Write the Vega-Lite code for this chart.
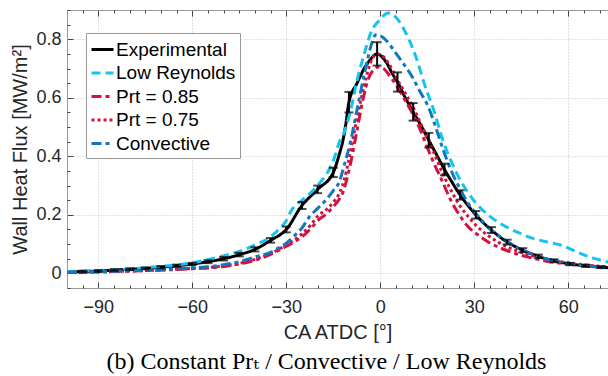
{
  "$schema": "https://vega.github.io/schema/vega-lite/v6.json",
  "autosize": {"type": "none"},
  "padding": {"left": 67, "top": 10, "right": 0, "bottom": 88},
  "width": 541,
  "height": 278,
  "background": "white",
  "title": {"text": "(b) Constant Prₜ / Convective / Low Reynolds", "orient": "bottom", "font": "Liberation Serif, DejaVu Serif", "fontSize": 24, "fontWeight": "normal", "color": "black", "offset": 8, "dx": -11},
  "config": {
    "view": {"stroke": null},
    "legend": {"orient": "none", "legendX": 19, "legendY": 23, "strokeColor": "#9a9a9a", "fillColor": "white", "padding": 4, "labelFont": "Liberation Sans", "labelFontSize": 19, "labelColor": "black", "symbolType": "stroke", "symbolSize": 484, "symbolStrokeWidth": 3, "rowPadding": 0.5, "labelOffset": 1, "labelLimit": 300}
  },
  "datasets": {
    "curves": [
      {"ca": -100, "v": 0.004, "s": "Experimental"}, {"ca": -95, "v": 0.006, "s": "Experimental"}, {"ca": -90, "v": 0.008, "s": "Experimental"}, {"ca": -85, "v": 0.011, "s": "Experimental"}, {"ca": -80, "v": 0.014, "s": "Experimental"}, {"ca": -75, "v": 0.017, "s": "Experimental"}, {"ca": -70, "v": 0.021, "s": "Experimental"}, {"ca": -65, "v": 0.026, "s": "Experimental"}, {"ca": -60, "v": 0.032, "s": "Experimental"}, {"ca": -55, "v": 0.04, "s": "Experimental"}, {"ca": -50, "v": 0.05, "s": "Experimental"}, {"ca": -45, "v": 0.064, "s": "Experimental"}, {"ca": -40, "v": 0.082, "s": "Experimental"}, {"ca": -35, "v": 0.113, "s": "Experimental"}, {"ca": -30, "v": 0.15, "s": "Experimental"}, {"ca": -25, "v": 0.232, "s": "Experimental"}, {"ca": -20, "v": 0.287, "s": "Experimental"}, {"ca": -15, "v": 0.345, "s": "Experimental"}, {"ca": -13, "v": 0.41, "s": "Experimental"}, {"ca": -12, "v": 0.45, "s": "Experimental"}, {"ca": -11, "v": 0.51, "s": "Experimental"}, {"ca": -10, "v": 0.585, "s": "Experimental"}, {"ca": -7.4, "v": 0.65, "s": "Experimental"}, {"ca": -5.4, "v": 0.695, "s": "Experimental"}, {"ca": -3.2, "v": 0.73, "s": "Experimental"}, {"ca": -1, "v": 0.75, "s": "Experimental"}, {"ca": 0, "v": 0.745, "s": "Experimental"}, {"ca": 2, "v": 0.72, "s": "Experimental"}, {"ca": 4, "v": 0.68, "s": "Experimental"}, {"ca": 5.5, "v": 0.654, "s": "Experimental"}, {"ca": 8, "v": 0.6, "s": "Experimental"}, {"ca": 10.5, "v": 0.552, "s": "Experimental"}, {"ca": 13, "v": 0.505, "s": "Experimental"}, {"ca": 15.5, "v": 0.455, "s": "Experimental"}, {"ca": 18, "v": 0.405, "s": "Experimental"}, {"ca": 20.5, "v": 0.355, "s": "Experimental"}, {"ca": 23, "v": 0.31, "s": "Experimental"}, {"ca": 25.5, "v": 0.268, "s": "Experimental"}, {"ca": 28, "v": 0.232, "s": "Experimental"}, {"ca": 30.5, "v": 0.2, "s": "Experimental"}, {"ca": 33, "v": 0.172, "s": "Experimental"}, {"ca": 35.5, "v": 0.148, "s": "Experimental"}, {"ca": 38, "v": 0.126, "s": "Experimental"}, {"ca": 40.5, "v": 0.107, "s": "Experimental"}, {"ca": 43, "v": 0.092, "s": "Experimental"}, {"ca": 45.5, "v": 0.079, "s": "Experimental"}, {"ca": 48, "v": 0.068, "s": "Experimental"}, {"ca": 50.5, "v": 0.058, "s": "Experimental"}, {"ca": 55.5, "v": 0.043, "s": "Experimental"}, {"ca": 60.5, "v": 0.032, "s": "Experimental"}, {"ca": 65.5, "v": 0.026, "s": "Experimental"}, {"ca": 70.5, "v": 0.021, "s": "Experimental"}, {"ca": 73, "v": 0.019, "s": "Experimental"},

      {"ca": -100, "v": 0.006, "s": "Low Reynolds"}, {"ca": -90, "v": 0.01, "s": "Low Reynolds"}, {"ca": -80, "v": 0.015, "s": "Low Reynolds"}, {"ca": -70, "v": 0.024, "s": "Low Reynolds"}, {"ca": -60, "v": 0.036, "s": "Low Reynolds"}, {"ca": -52, "v": 0.055, "s": "Low Reynolds"}, {"ca": -45, "v": 0.075, "s": "Low Reynolds"}, {"ca": -40, "v": 0.097, "s": "Low Reynolds"}, {"ca": -35, "v": 0.125, "s": "Low Reynolds"}, {"ca": -32, "v": 0.155, "s": "Low Reynolds"}, {"ca": -30, "v": 0.18, "s": "Low Reynolds"}, {"ca": -28.5, "v": 0.213, "s": "Low Reynolds"}, {"ca": -25, "v": 0.25, "s": "Low Reynolds"}, {"ca": -20, "v": 0.3, "s": "Low Reynolds"}, {"ca": -15, "v": 0.385, "s": "Low Reynolds"}, {"ca": -12.8, "v": 0.455, "s": "Low Reynolds"}, {"ca": -11.8, "v": 0.475, "s": "Low Reynolds"}, {"ca": -9.6, "v": 0.55, "s": "Low Reynolds"}, {"ca": -7.4, "v": 0.66, "s": "Low Reynolds"}, {"ca": -5.1, "v": 0.75, "s": "Low Reynolds"}, {"ca": -3.1, "v": 0.82, "s": "Low Reynolds"}, {"ca": 0, "v": 0.868, "s": "Low Reynolds"}, {"ca": 2.5, "v": 0.89, "s": "Low Reynolds"}, {"ca": 5, "v": 0.875, "s": "Low Reynolds"}, {"ca": 8, "v": 0.825, "s": "Low Reynolds"}, {"ca": 10.5, "v": 0.765, "s": "Low Reynolds"}, {"ca": 12, "v": 0.72, "s": "Low Reynolds"}, {"ca": 14, "v": 0.65, "s": "Low Reynolds"}, {"ca": 17, "v": 0.56, "s": "Low Reynolds"}, {"ca": 20, "v": 0.455, "s": "Low Reynolds"}, {"ca": 24.5, "v": 0.34, "s": "Low Reynolds"}, {"ca": 29.8, "v": 0.25, "s": "Low Reynolds"}, {"ca": 35, "v": 0.195, "s": "Low Reynolds"}, {"ca": 40, "v": 0.16, "s": "Low Reynolds"}, {"ca": 45, "v": 0.135, "s": "Low Reynolds"}, {"ca": 48, "v": 0.122, "s": "Low Reynolds"}, {"ca": 53, "v": 0.108, "s": "Low Reynolds"}, {"ca": 57.5, "v": 0.097, "s": "Low Reynolds"}, {"ca": 61, "v": 0.082, "s": "Low Reynolds"}, {"ca": 64.8, "v": 0.064, "s": "Low Reynolds"}, {"ca": 68, "v": 0.052, "s": "Low Reynolds"}, {"ca": 73, "v": 0.038, "s": "Low Reynolds"},

      {"ca": -100, "v": 0.003, "s": "Prt = 0.85"}, {"ca": -90, "v": 0.005, "s": "Prt = 0.85"}, {"ca": -80, "v": 0.008, "s": "Prt = 0.85"}, {"ca": -70, "v": 0.011, "s": "Prt = 0.85"}, {"ca": -60, "v": 0.016, "s": "Prt = 0.85"}, {"ca": -52, "v": 0.021, "s": "Prt = 0.85"}, {"ca": -45, "v": 0.032, "s": "Prt = 0.85"}, {"ca": -40, "v": 0.045, "s": "Prt = 0.85"}, {"ca": -35, "v": 0.065, "s": "Prt = 0.85"}, {"ca": -30, "v": 0.093, "s": "Prt = 0.85"}, {"ca": -27, "v": 0.11, "s": "Prt = 0.85"}, {"ca": -25, "v": 0.125, "s": "Prt = 0.85"}, {"ca": -22, "v": 0.155, "s": "Prt = 0.85"}, {"ca": -20, "v": 0.18, "s": "Prt = 0.85"}, {"ca": -17, "v": 0.205, "s": "Prt = 0.85"}, {"ca": -15, "v": 0.228, "s": "Prt = 0.85"}, {"ca": -13, "v": 0.255, "s": "Prt = 0.85"}, {"ca": -11.8, "v": 0.28, "s": "Prt = 0.85"}, {"ca": -10.5, "v": 0.33, "s": "Prt = 0.85"}, {"ca": -9.6, "v": 0.37, "s": "Prt = 0.85"}, {"ca": -7.4, "v": 0.49, "s": "Prt = 0.85"}, {"ca": -5.4, "v": 0.6, "s": "Prt = 0.85"}, {"ca": -3.8, "v": 0.665, "s": "Prt = 0.85"}, {"ca": -2, "v": 0.697, "s": "Prt = 0.85"}, {"ca": -0.6, "v": 0.705, "s": "Prt = 0.85"}, {"ca": 1, "v": 0.7, "s": "Prt = 0.85"}, {"ca": 3, "v": 0.675, "s": "Prt = 0.85"}, {"ca": 5.3, "v": 0.64, "s": "Prt = 0.85"}, {"ca": 8, "v": 0.59, "s": "Prt = 0.85"}, {"ca": 10.6, "v": 0.54, "s": "Prt = 0.85"}, {"ca": 13, "v": 0.485, "s": "Prt = 0.85"}, {"ca": 15, "v": 0.43, "s": "Prt = 0.85"}, {"ca": 17, "v": 0.38, "s": "Prt = 0.85"}, {"ca": 20, "v": 0.31, "s": "Prt = 0.85"}, {"ca": 22.5, "v": 0.25, "s": "Prt = 0.85"}, {"ca": 25.5, "v": 0.196, "s": "Prt = 0.85"}, {"ca": 28, "v": 0.16, "s": "Prt = 0.85"}, {"ca": 32, "v": 0.125, "s": "Prt = 0.85"}, {"ca": 35, "v": 0.104, "s": "Prt = 0.85"}, {"ca": 38.3, "v": 0.087, "s": "Prt = 0.85"}, {"ca": 42, "v": 0.072, "s": "Prt = 0.85"}, {"ca": 45.6, "v": 0.06, "s": "Prt = 0.85"}, {"ca": 50, "v": 0.049, "s": "Prt = 0.85"}, {"ca": 54, "v": 0.04, "s": "Prt = 0.85"}, {"ca": 60, "v": 0.032, "s": "Prt = 0.85"}, {"ca": 65, "v": 0.027, "s": "Prt = 0.85"}, {"ca": 73, "v": 0.021, "s": "Prt = 0.85"},

      {"ca": -100, "v": 0.003, "s": "Prt = 0.75"}, {"ca": -90, "v": 0.005, "s": "Prt = 0.75"}, {"ca": -80, "v": 0.008, "s": "Prt = 0.75"}, {"ca": -70, "v": 0.012, "s": "Prt = 0.75"}, {"ca": -60, "v": 0.017, "s": "Prt = 0.75"}, {"ca": -52, "v": 0.023, "s": "Prt = 0.75"}, {"ca": -45, "v": 0.034, "s": "Prt = 0.75"}, {"ca": -40, "v": 0.048, "s": "Prt = 0.75"}, {"ca": -35, "v": 0.068, "s": "Prt = 0.75"}, {"ca": -30, "v": 0.097, "s": "Prt = 0.75"}, {"ca": -27, "v": 0.118, "s": "Prt = 0.75"}, {"ca": -25, "v": 0.135, "s": "Prt = 0.75"}, {"ca": -22, "v": 0.168, "s": "Prt = 0.75"}, {"ca": -20, "v": 0.195, "s": "Prt = 0.75"}, {"ca": -17, "v": 0.22, "s": "Prt = 0.75"}, {"ca": -15, "v": 0.243, "s": "Prt = 0.75"}, {"ca": -13, "v": 0.275, "s": "Prt = 0.75"}, {"ca": -11.5, "v": 0.32, "s": "Prt = 0.75"}, {"ca": -10, "v": 0.39, "s": "Prt = 0.75"}, {"ca": -8, "v": 0.5, "s": "Prt = 0.75"}, {"ca": -6, "v": 0.6, "s": "Prt = 0.75"}, {"ca": -4, "v": 0.69, "s": "Prt = 0.75"}, {"ca": -2.5, "v": 0.735, "s": "Prt = 0.75"}, {"ca": -1, "v": 0.75, "s": "Prt = 0.75"}, {"ca": 0.5, "v": 0.745, "s": "Prt = 0.75"}, {"ca": 2.5, "v": 0.72, "s": "Prt = 0.75"}, {"ca": 5.3, "v": 0.665, "s": "Prt = 0.75"}, {"ca": 8, "v": 0.615, "s": "Prt = 0.75"}, {"ca": 10.6, "v": 0.565, "s": "Prt = 0.75"}, {"ca": 13, "v": 0.51, "s": "Prt = 0.75"}, {"ca": 15.4, "v": 0.455, "s": "Prt = 0.75"}, {"ca": 18, "v": 0.39, "s": "Prt = 0.75"}, {"ca": 20, "v": 0.34, "s": "Prt = 0.75"}, {"ca": 22.5, "v": 0.285, "s": "Prt = 0.75"}, {"ca": 25.5, "v": 0.23, "s": "Prt = 0.75"}, {"ca": 28, "v": 0.195, "s": "Prt = 0.75"}, {"ca": 30.5, "v": 0.165, "s": "Prt = 0.75"}, {"ca": 35, "v": 0.125, "s": "Prt = 0.75"}, {"ca": 40, "v": 0.093, "s": "Prt = 0.75"}, {"ca": 45, "v": 0.072, "s": "Prt = 0.75"}, {"ca": 50, "v": 0.056, "s": "Prt = 0.75"}, {"ca": 55, "v": 0.045, "s": "Prt = 0.75"}, {"ca": 60, "v": 0.036, "s": "Prt = 0.75"}, {"ca": 65, "v": 0.029, "s": "Prt = 0.75"}, {"ca": 73, "v": 0.022, "s": "Prt = 0.75"},

      {"ca": -100, "v": 0.004, "s": "Convective"}, {"ca": -90, "v": 0.006, "s": "Convective"}, {"ca": -80, "v": 0.009, "s": "Convective"}, {"ca": -70, "v": 0.013, "s": "Convective"}, {"ca": -60, "v": 0.019, "s": "Convective"}, {"ca": -52, "v": 0.026, "s": "Convective"}, {"ca": -45, "v": 0.04, "s": "Convective"}, {"ca": -40, "v": 0.056, "s": "Convective"}, {"ca": -35, "v": 0.072, "s": "Convective"}, {"ca": -32, "v": 0.09, "s": "Convective"}, {"ca": -30, "v": 0.103, "s": "Convective"}, {"ca": -27.5, "v": 0.128, "s": "Convective"}, {"ca": -25, "v": 0.155, "s": "Convective"}, {"ca": -22.5, "v": 0.195, "s": "Convective"}, {"ca": -20, "v": 0.222, "s": "Convective"}, {"ca": -17, "v": 0.255, "s": "Convective"}, {"ca": -15, "v": 0.283, "s": "Convective"}, {"ca": -13, "v": 0.315, "s": "Convective"}, {"ca": -11.5, "v": 0.37, "s": "Convective"}, {"ca": -9.6, "v": 0.445, "s": "Convective"}, {"ca": -7.4, "v": 0.56, "s": "Convective"}, {"ca": -4.8, "v": 0.695, "s": "Convective"}, {"ca": -2.6, "v": 0.79, "s": "Convective"}, {"ca": -1.5, "v": 0.815, "s": "Convective"}, {"ca": 0, "v": 0.812, "s": "Convective"}, {"ca": 2, "v": 0.795, "s": "Convective"}, {"ca": 5, "v": 0.752, "s": "Convective"}, {"ca": 7.5, "v": 0.715, "s": "Convective"}, {"ca": 10, "v": 0.675, "s": "Convective"}, {"ca": 12.5, "v": 0.625, "s": "Convective"}, {"ca": 15.5, "v": 0.565, "s": "Convective"}, {"ca": 18, "v": 0.49, "s": "Convective"}, {"ca": 20, "v": 0.425, "s": "Convective"}, {"ca": 22.5, "v": 0.355, "s": "Convective"}, {"ca": 25.5, "v": 0.288, "s": "Convective"}, {"ca": 28, "v": 0.24, "s": "Convective"}, {"ca": 30.5, "v": 0.205, "s": "Convective"}, {"ca": 35, "v": 0.152, "s": "Convective"}, {"ca": 40, "v": 0.112, "s": "Convective"}, {"ca": 45, "v": 0.082, "s": "Convective"}, {"ca": 50, "v": 0.059, "s": "Convective"}, {"ca": 55, "v": 0.044, "s": "Convective"}, {"ca": 60, "v": 0.033, "s": "Convective"}, {"ca": 65, "v": 0.026, "s": "Convective"}, {"ca": 70, "v": 0.021, "s": "Convective"}, {"ca": 73, "v": 0.019, "s": "Convective"}
    ],
    "err": [
      {"ca": -95, "lo": 0.003, "hi": 0.009}, {"ca": -90, "lo": 0.005, "hi": 0.011}, {"ca": -85, "lo": 0.008, "hi": 0.014}, {"ca": -80, "lo": 0.011, "hi": 0.017}, {"ca": -75, "lo": 0.014, "hi": 0.02}, {"ca": -70, "lo": 0.017, "hi": 0.025}, {"ca": -65, "lo": 0.022, "hi": 0.03}, {"ca": -60, "lo": 0.028, "hi": 0.036}, {"ca": -55, "lo": 0.035, "hi": 0.045}, {"ca": -50, "lo": 0.044, "hi": 0.056}, {"ca": -45, "lo": 0.058, "hi": 0.07}, {"ca": -40, "lo": 0.075, "hi": 0.089}, {"ca": -35, "lo": 0.105, "hi": 0.121}, {"ca": -30, "lo": 0.14, "hi": 0.16}, {"ca": -25, "lo": 0.22, "hi": 0.244}, {"ca": -20, "lo": 0.274, "hi": 0.3}, {"ca": -15, "lo": 0.329, "hi": 0.361}, {"ca": -10, "lo": 0.55, "hi": 0.62}, {"ca": -1, "lo": 0.71, "hi": 0.79}, {"ca": 5.5, "lo": 0.621, "hi": 0.687}, {"ca": 10.5, "lo": 0.522, "hi": 0.582}, {"ca": 15.5, "lo": 0.43, "hi": 0.48}, {"ca": 20.5, "lo": 0.335, "hi": 0.375}, {"ca": 25.5, "lo": 0.252, "hi": 0.284}, {"ca": 30.5, "lo": 0.187, "hi": 0.213}, {"ca": 35.5, "lo": 0.138, "hi": 0.158}, {"ca": 40.5, "lo": 0.099, "hi": 0.115}, {"ca": 45.5, "lo": 0.072, "hi": 0.086}, {"ca": 50.5, "lo": 0.052, "hi": 0.064}, {"ca": 55.5, "lo": 0.038, "hi": 0.048}, {"ca": 60.5, "lo": 0.028, "hi": 0.036}, {"ca": 65.5, "lo": 0.022, "hi": 0.03}, {"ca": 70.5, "lo": 0.018, "hi": 0.024}
    ]
  },
  "resolve": {"axis": {"x": "independent", "y": "independent"}},
  "layer": [
    {
      "data": {"name": "curves"},
      "mark": {"type": "line", "clip": true, "strokeWidth": 3, "interpolate": "monotone"},
      "encoding": {
        "x": {"field": "ca", "type": "quantitative", "scale": {"domain": [-100, 72.7], "nice": false, "zero": false},
          "axis": {"orient": "bottom", "values": [-90, -60, -30, 0, 30, 60], "grid": true, "gridDash": [1, 2], "gridColor": "#c4c4c4", "ticks": true, "tickSize": -6, "tickColor": "#444", "domainColor": "#999", "labelFont": "Liberation Sans", "labelFontSize": 18, "labelColor": "#262626", "labelPadding": 16, "title": "CA ATDC [°]", "titleFont": "Liberation Sans", "titleFontSize": 20, "titleFontWeight": "normal", "titleColor": "#262626", "titlePadding": 6}},
        "y": {"field": "v", "type": "quantitative", "scale": {"domain": [-0.05, 0.9], "nice": false, "zero": false},
          "axis": {"orient": "left", "values": [0, 0.2, 0.4, 0.6, 0.8], "labelExpr": "datum.value == 0 ? '0' : format(datum.value, '.1f')", "grid": true, "gridDash": [1, 2], "gridColor": "#c4c4c4", "ticks": true, "tickSize": -6, "tickColor": "#444", "domainColor": "#999", "labelFont": "Liberation Sans", "labelFontSize": 18, "labelColor": "#262626", "labelPadding": 12, "title": "Wall Heat Flux [MW/m²]", "titleFont": "Liberation Sans", "titleFontSize": 20, "titleFontWeight": "normal", "titleColor": "#262626", "titlePadding": 5}},
        "color": {"field": "s", "type": "nominal", "legend": {"title": null},
          "scale": {"domain": ["Experimental", "Low Reynolds", "Prt = 0.85", "Prt = 0.75", "Convective"], "range": ["#000000", "#14C3EE", "#D2123F", "#D2123F", "#0F78BE"]}},
        "strokeDash": {"field": "s", "type": "nominal", "legend": {"title": null},
          "scale": {"domain": ["Experimental", "Low Reynolds", "Prt = 0.85", "Prt = 0.75", "Convective"], "range": [[1, 0], [9, 5], [10, 4, 4, 4], [3, 3], [10, 4, 4, 4]]}}
      }
    },
    {
      "data": {"name": "err"},
      "mark": {"type": "rule", "color": "black", "strokeWidth": 2, "clip": true},
      "encoding": {
        "x": {"field": "ca", "type": "quantitative", "axis": {"orient": "bottom", "values": [-95, -85, -80, -75, -70, -65, -55, -50, -45, -40, -35, -25, -20, -15, -10, -5, 5, 10, 15, 20, 25, 35, 40, 45, 50, 55, 65, 70], "labels": false, "grid": false, "domain": false, "ticks": true, "tickSize": -3, "tickColor": "#444", "title": null}},
        "y": {"field": "lo", "type": "quantitative", "axis": {"orient": "left", "values": [-0.05, 0.05, 0.1, 0.15, 0.25, 0.3, 0.35, 0.45, 0.5, 0.55, 0.65, 0.7, 0.75, 0.85, 0.9], "labels": false, "grid": false, "domain": false, "ticks": true, "tickSize": -3, "tickColor": "#444", "title": null}},
        "y2": {"field": "hi"}
      }
    },
    {
      "data": {"name": "err"},
      "mark": {"type": "tick", "orient": "horizontal", "color": "black", "size": 9, "thickness": 2, "clip": true},
      "encoding": {
        "x": {"field": "ca", "type": "quantitative", "axis": {"orient": "top", "values": [-90, -60, -30, 0, 30, 60], "labels": false, "grid": false, "domain": true, "domainColor": "#999", "ticks": true, "tickSize": -6, "tickColor": "#444", "title": null}},
        "y": {"field": "lo", "type": "quantitative", "axis": null}
      }
    },
    {
      "data": {"name": "err"},
      "mark": {"type": "tick", "orient": "horizontal", "color": "black", "size": 9, "thickness": 2, "clip": true},
      "encoding": {
        "x": {"field": "ca", "type": "quantitative", "axis": {"orient": "top", "values": [-95, -85, -80, -75, -70, -65, -55, -50, -45, -40, -35, -25, -20, -15, -10, -5, 5, 10, 15, 20, 25, 35, 40, 45, 50, 55, 65, 70], "labels": false, "grid": false, "domain": false, "ticks": true, "tickSize": -3, "tickColor": "#444", "title": null}},
        "y": {"field": "hi", "type": "quantitative", "axis": null}
      }
    }
  ]
}
